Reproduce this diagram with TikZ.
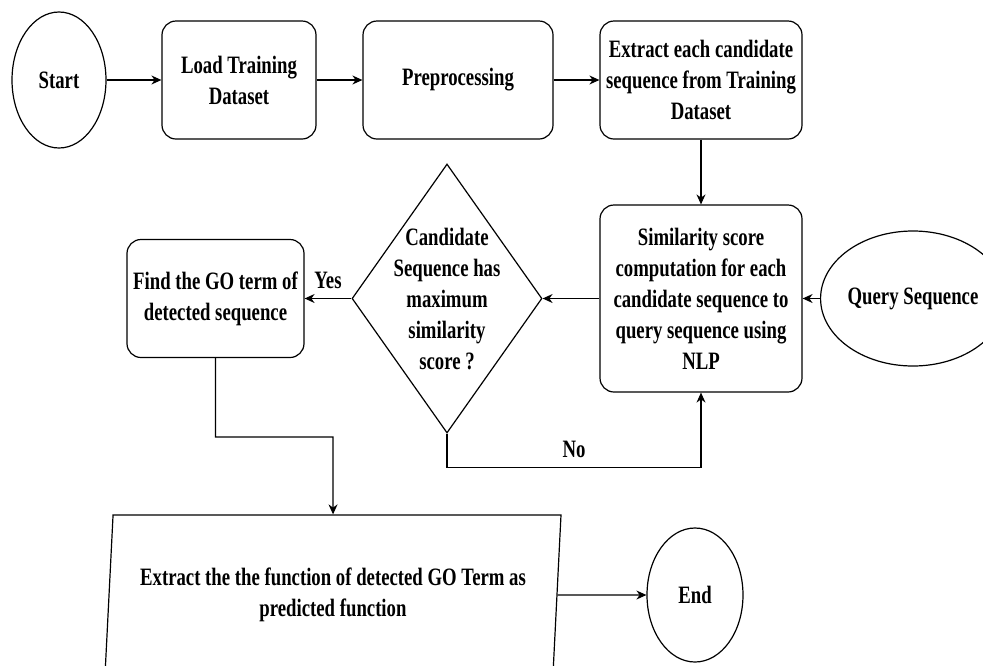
\documentclass[tikz,border=0pt]{standalone}
\usepackage{fontspec}
\setmainfont[FakeStretch=0.75]{Liberation Serif}
\usetikzlibrary{positioning,calc,arrows,arrows.meta,shapes.geometric}
\tikzset{procbox/.style={draw,rounded corners=14pt,align=center,inner sep=0pt,line width=1.2pt}}
\tikzset{termnode/.style={draw,ellipse,align=center,inner sep=0pt,line width=1.2pt}}
\tikzset{decnode/.style={draw,diamond,align=center,inner sep=-11pt,shape aspect=0.706,line width=1.2pt}}
\tikzset{iobox/.style={draw,trapezium,trapezium left angle=81.5,trapezium right angle=98.5,trapezium stretches body,align=center,inner sep=0pt,line width=1.2pt}}
\tikzset{>={Stealth[length=10pt,width=9pt]}}

\begin{document}
\begin{tikzpicture}[x=1pt,y=-1pt,every node/.append style={font=\bfseries\fontsize{25}{31}\selectfont}]
  % pixel grid of the flow chart, y pointing down
  \useasboundingbox (0,0) rectangle (983,665);
  \clip (0,0) rectangle (983,665);

  \node[termnode,minimum width=94pt,minimum height=136pt] (start) at (59,80) {Start};
  \node[procbox,minimum width=154pt,minimum height=118pt] (load) at (239,80) {Load Training\\Dataset};
  \node[procbox,minimum width=190pt,minimum height=118pt] (pre) at (458,80) {Preprocessing};
  \node[procbox,minimum width=202pt,minimum height=118pt] (extr) at (701,80) {Extract each candidate\\sequence from Training\\Dataset};
  \node[procbox,minimum width=202pt,minimum height=187pt] (sim) at (701,298.5) {Similarity score\\computation for each\\candidate sequence to\\query sequence using\\NLP};
  \node[termnode,minimum width=152pt,minimum height=135pt] (query) at (913,298.5) {Query Sequence};
  \node[decnode,minimum width=190pt,minimum height=269pt] (dia) at (447,298.5) {Candidate\\Sequence has\\maximum\\similarity\\score ?};
  \node[procbox,minimum width=177pt,minimum height=118pt] (find) at (215.5,298.5) {Find the GO term of\\detected sequence};
  \node[iobox,minimum width=456pt,minimum height=160pt] (para) at (333,595) {Extract the the function of detected GO Term as\\predicted function};
  \node[termnode,minimum width=96pt,minimum height=134pt] (endn) at (695,595) {End};
  \coordinate (bend) at (333,437);

  \draw[->,line width=1.2pt] (start) -- (load);
  \draw[->,line width=1.2pt] (load) -- (pre);
  \draw[->,line width=1.2pt] (pre) -- (extr);
  \draw[->,line width=1.2pt] (extr) -- (sim);
  \draw[->,line width=1.2pt] (query) -- (sim);
  \draw[->,line width=1.2pt] (sim) -- (dia);
  \draw[->,line width=1.2pt] (dia) -- node[above=6pt]{Yes} (find);
  \draw[->,line width=1.2pt] (dia.south) -- ++(0,34) -| node[pos=0.25,above=6pt]{No} (sim.south);
  \draw[->,line width=1.2pt] (find.south) |- (bend) -- (para.north);
  \draw[->,line width=1.2pt] (para) -- (endn);
\end{tikzpicture}
\end{document}
